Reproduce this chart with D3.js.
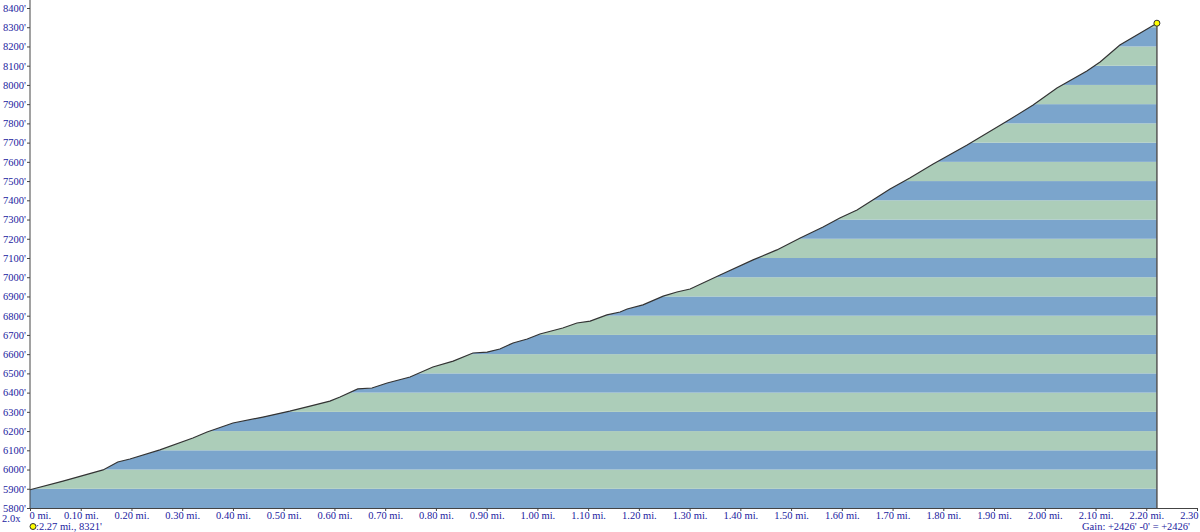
<!DOCTYPE html>
<html>
<head>
<meta charset="utf-8">
<script src="https://cdn.jsdelivr.net/npm/d3@7"></script>
<style>
  body { margin: 0; background: #fff; }
  svg text { font-family: "Liberation Serif", "DejaVu Serif", serif; font-size: 10.5px; fill: #2222a0; }
</style>
</head>
<body>
<svg id="plotSVG" width="1200" height="532"></svg>
<script>
// profile: distance (mi) and elevation (ft)
const distMi = [0, 0.065, 0.144, 0.173, 0.197, 0.256, 0.321, 0.349, 0.400, 0.459, 0.512, 0.552, 0.591,
  0.611, 0.646, 0.674, 0.704, 0.749, 0.794, 0.834, 0.873, 0.901, 0.926, 0.952, 0.980, 1.005, 1.050,
  1.078, 1.104, 1.137, 1.163, 1.177, 1.208, 1.248, 1.275, 1.301, 1.360, 1.425, 1.472, 1.518, 1.563,
  1.596, 1.630, 1.661, 1.695, 1.734, 1.780, 1.847, 1.926, 1.977, 2.024, 2.083, 2.109, 2.148, 2.221];
const elevFt = [5895, 5940, 5998, 6039, 6055, 6102, 6164, 6195, 6242, 6273, 6304, 6330, 6356,
  6377, 6419, 6424, 6450, 6481, 6533, 6564, 6606, 6611, 6627, 6658, 6679, 6705, 6736,
  6762, 6772, 6804, 6819, 6835, 6856, 6902, 6923, 6939, 7012, 7090, 7142, 7204, 7261,
  7308, 7350, 7402, 7459, 7516, 7589, 7688, 7812, 7896, 7984, 8072, 8119, 8208, 8321];

// axis ticks
const yTicks = d3.range(5800, 8401, 100);
const xTicks = d3.range(0, 24).map(i => i / 10);

// texts
const zoomLabel = "2.0x";
const pointLabel = ":2.27 mi., 8321'";
const gainLabel = "Gain: +2426' -0' = +2426'";

const svg = d3.select('#plotSVG');

const data = distMi.map((d, i) => ({mi: d, ft: elevFt[i]}));

const xScale = d3.scaleLinear().domain([0, 2.3]).range([30, 1197]);
const yScale = d3.scaleLinear().domain([5800, 8400]).range([508, 8]);

// area under the profile, used as clip for the bands
const area = d3.area()
    .x(d => xScale(d.mi))
    .y0(yScale(5800))
    .y1(d => yScale(d.ft));

svg.append('clipPath')
    .attr('id', 'profClip')
    .append('path')
    .attr('d', area(data));

// alternating 100' bands
svg.append('g')
    .attr('clip-path', 'url(#profClip)')
    .selectAll('rect')
    .data(yTicks.slice(0, -1))
    .enter()
    .append('rect')
    .attr('x', xScale(0))
    .attr('width', xScale(2.3) - xScale(0))
    .attr('y', d => yScale(d + 100))
    .attr('height', d => yScale(d) - yScale(d + 100))
    .attr('fill', (d, i) => i % 2 == 0 ? '#7ba5cc' : '#accdb9');

// profile line
const line = d3.line()
    .x(d => xScale(d.mi))
    .y(d => yScale(d.ft));

svg.append('path')
    .attr('d', line(data))
    .attr('fill', 'none')
    .attr('stroke', '#333')
    .attr('stroke-width', 1.2);

// vertical line at end of profile
const last = data[data.length - 1];
svg.append('line')
    .attr('x1', xScale(last.mi)).attr('x2', xScale(last.mi))
    .attr('y1', yScale(last.ft)).attr('y2', yScale(5800))
    .attr('stroke', '#555')
    .attr('stroke-width', 1.5);

// axes
const yAxis = d3.axisLeft(yScale)
    .tickValues(yTicks)
    .tickSize(3)
    .tickFormat(d => d + "'");

const yG = svg.append('g')
    .attr('transform', 'translate(' + xScale(0) + ',0)')
    .call(yAxis);
yG.select('.domain').attr('d', 'M0,0V' + yScale(5800));

const xAxis = d3.axisBottom(xScale)
    .tickValues(xTicks)
    .tickSize(3)
    .tickFormat(d => d == 0 ? '0 mi.' : d3.format('.2f')(d) + ' mi.');

const xG = svg.append('g')
    .attr('transform', 'translate(0,' + yScale(5800) + ')')
    .call(xAxis);

[yG, xG].forEach(g => {
    g.select('.domain').attr('stroke', '#444');
    g.selectAll('.tick line').attr('stroke', '#444');
    g.selectAll('text')
        .attr('fill', '#2222a0')
        .style('font-family', '"Liberation Serif", serif')
        .style('font-size', '10.5px');
});
yG.selectAll('.tick text').attr('x', -4);
xG.selectAll('.tick text').attr('y', 4);
xG.selectAll('.tick text').filter(d => d == 0).attr('text-anchor', 'start').attr('x', -1);

// end point marker
svg.append('circle')
    .attr('cx', xScale(last.mi))
    .attr('cy', yScale(last.ft))
    .attr('r', 3)
    .attr('fill', '#ffff00')
    .attr('stroke', '#333')
    .attr('stroke-width', 1);

// bottom texts
svg.append('text').attr('x', 2).attr('y', 522).text(zoomLabel);

svg.append('circle')
    .attr('cx', 33).attr('cy', 526.5).attr('r', 3)
    .attr('fill', '#ffff00').attr('stroke', '#333').attr('stroke-width', 1);
svg.append('text').attr('x', 36).attr('y', 530).text(pointLabel);

svg.append('text').attr('x', 1190).attr('y', 530)
    .attr('text-anchor', 'end')
    .text(gainLabel);
</script>
</body>
</html>
